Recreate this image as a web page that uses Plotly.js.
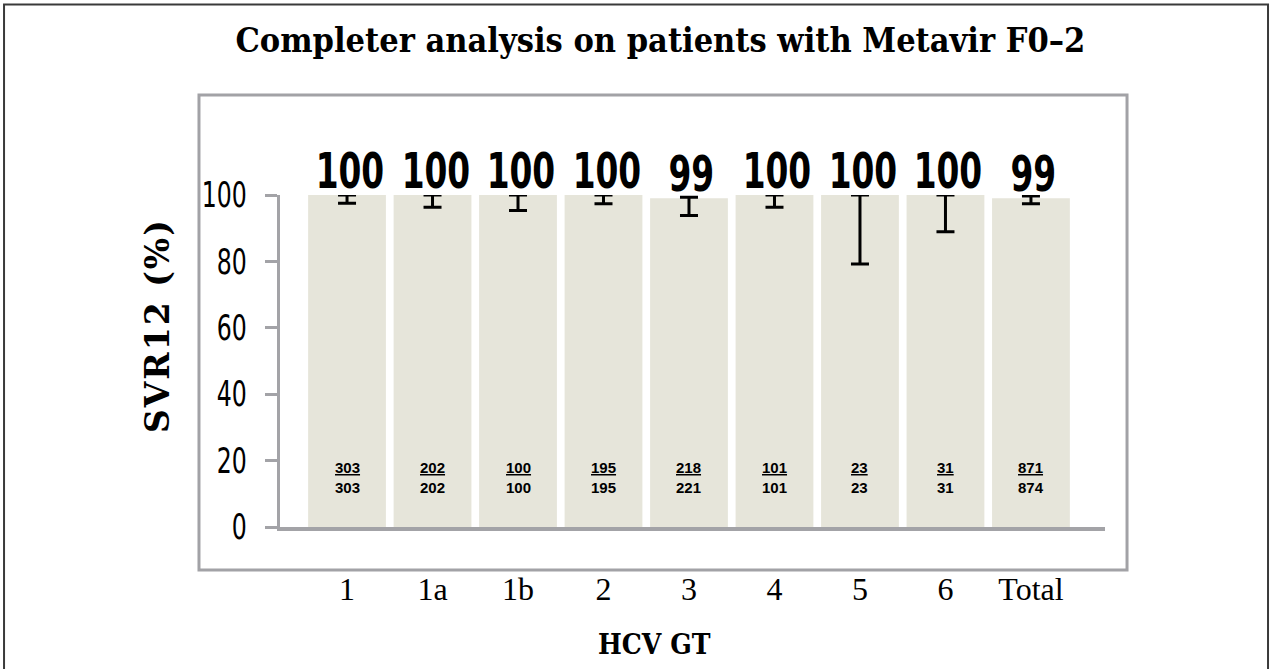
<!DOCTYPE html>
<html>
<head>
<meta charset="utf-8">
<script src="https://cdn.plot.ly/plotly-3.0.1.min.js"></script>
<style>
  html, body { margin: 0; padding: 0; background: #ffffff; }
  #chart { width: 1270px; height: 669px; }
  /* narrow, tall numerals like the reference (Calibri-style) */
  #chart .ytick text {
    transform-box: fill-box;
    transform-origin: 100% 50%;
    scale: 0.75 1;
  }
  #chart text.annotation-text[style*="Sans Condensed"] {
    transform-box: fill-box;
    transform-origin: 50% 50%;
    scale: 0.73 1;
  }
</style>
</head>
<body>
<div id="chart"></div>
<script>
// ---- data ----
const categories = ['1', '1a', '1b', '2', '3', '4', '5', '6', 'Total'];
const svr = [100, 100, 100, 100, 99, 100, 100, 100, 99];
const ciLow = [97.5, 96.3, 95.3, 97.4, 93.8, 96.3, 79.2, 88.9, 97.4];
const ciHigh = [100, 100, 100, 100, 99.3, 100, 100, 100, 99.7];
const responders = [303, 202, 100, 195, 218, 101, 23, 31, 871];
const totals = [303, 202, 100, 195, 221, 101, 23, 31, 874];
const yTicks = [0, 20, 40, 60, 80, 100];

const narrow = '"DejaVu Sans Condensed", "Liberation Sans Narrow", sans-serif';
const slab = '"DejaVu Serif", serif';
const axisGray = '#a3a3a7';

const trace = {
  type: 'bar',
  x: categories,
  y: svr,
  width: 0.91,
  marker: { color: '#e6e5da', line: { width: 0 } },
  error_y: {
    type: 'data',
    symmetric: false,
    array: ciHigh.map((h, i) => h - svr[i]),
    arrayminus: ciLow.map((l, i) => svr[i] - l),
    color: '#000000',
    thickness: 3,
    width: 9,
    visible: true
  },
  cliponaxis: false,
  hoverinfo: 'skip'
};

const annotations = [];
categories.forEach((c, i) => {
  annotations.push({
    x: i, y: svr[i], xref: 'x', yref: 'y',
    text: '<b>' + svr[i] + '</b>',
    showarrow: false, yanchor: 'bottom', xanchor: 'center', yshift: -7, xshift: 3,
    font: { family: narrow, size: 50, color: '#000000' }
  });
  annotations.push({
    x: i, y: 15, xref: 'x', yref: 'y',
    text: '<b><u>' + responders[i] + '</u><br>' + totals[i] + '</b>',
    showarrow: false, yanchor: 'middle', xanchor: 'center',
    font: { family: 'Liberation Sans, Arial, sans-serif', size: 15, color: '#000000' }
  });
});
annotations.push({
  xref: 'paper', yref: 'paper', x: -0.1490, y: 0.6054,
  text: '<b><span style="letter-spacing:2px">SVR12 (%)</span></b>', textangle: -90, showarrow: false,
  xanchor: 'center', yanchor: 'middle',
  font: { family: slab, size: 33, color: '#000000' }
});
annotations.push({
  xref: 'paper', yref: 'paper', x: 0.4545, y: -0.3554,
  text: '<b>HCV GT</b>', showarrow: false,
  xanchor: 'center', yanchor: 'middle',
  font: { family: '"DejaVu Serif Condensed", "DejaVu Serif", serif', size: 28, color: '#000000' }
});

const layout = {
  width: 1270,
  height: 669,
  margin: { l: 280, r: 165, t: 195, b: 142, pad: 0 },
  paper_bgcolor: '#ffffff',
  plot_bgcolor: '#ffffff',
  showlegend: false,
  title: {
    text: '<b>Completer analysis on patients with Metavir F0–2</b>',
    xref: 'container', yref: 'container',
    x: 0.52, xanchor: 'center', y: 0.94, yanchor: 'middle',
    font: { family: '"DejaVu Serif Condensed", "DejaVu Serif", serif', size: 34, color: '#000000' }
  },
  xaxis: {
    type: 'category',
    range: [-0.784, 8.866],
    showgrid: false,
    zeroline: false,
    showline: true,
    linecolor: axisGray,
    linewidth: 4,
    ticks: '',
    ticklabelstandoff: 31,
    tickfont: { family: 'Liberation Serif, "Times New Roman", serif', size: 32, color: '#000000' },
    fixedrange: true
  },
  yaxis: {
    range: [0, 100],
    tickvals: yTicks,
    ticktext: yTicks.map(String),
    showgrid: false,
    zeroline: false,
    showline: true,
    linecolor: axisGray,
    linewidth: 3,
    ticks: 'outside',
    ticklen: 12,
    tickwidth: 3,
    tickcolor: axisGray,
    ticklabelstandoff: 15,
    tickfont: { family: narrow, size: 35, color: '#000000' },
    fixedrange: true
  },
  shapes: [
    {
      type: 'rect', xref: 'paper', yref: 'paper', layer: 'below',
      x0: -0.0982, x1: 1.0267, y0: -0.1295, y1: 1.301,
      line: { color: '#a2a2a6', width: 3 }, fillcolor: 'rgba(0,0,0,0)'
    },
    {
      type: 'rect', xref: 'paper', yref: 'paper', layer: 'below',
      x0: -0.3345, x1: 1.1976, y0: -0.7, y1: 1.5738,
      line: { color: '#3a3a3a', width: 2 }, fillcolor: 'rgba(0,0,0,0)'
    }
  ],
  annotations: annotations
};

Plotly.newPlot('chart', [trace], layout, { displayModeBar: false, staticPlot: true });
</script>
</body>
</html>
